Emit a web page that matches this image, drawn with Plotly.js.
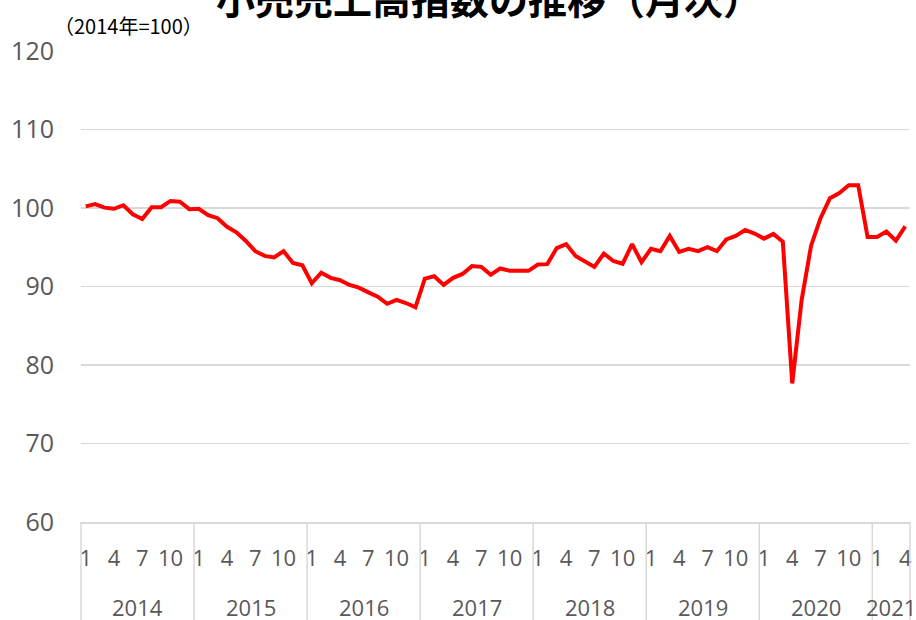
<!DOCTYPE html>
<html>
<head>
<meta charset="utf-8">
<script src="https://cdn.plot.ly/plotly-3.0.1.min.js"></script>
<style>html,body{margin:0;padding:0;background:#fff;}#chart{width:916px;height:620px;}</style>
</head>
<body>
<div id="chart"></div>
<script>
const titleText = '小売売上高指数の推移（月次）';
const unitText = '（2014年=100）';
const years = ['2014','2015','2016','2017','2018','2019','2020','2021'];
const monthCounts = [12,12,12,12,12,12,12,4];
const shownMonths = [1,4,7,10];
const yTicks = [60,70,80,90,100,110,120];
const values = [
  100.2,100.5,100.05,99.9,100.35,99.2,98.6,100.1,100.1,100.9,100.8,99.85,
  99.9,99.1,98.7,97.6,96.9,95.8,94.5,93.9,93.7,94.5,93.0,92.7,
  90.4,91.75,91.1,90.8,90.2,89.85,89.25,88.7,87.8,88.3,87.9,87.35,
  91.0,91.3,90.2,91.1,91.6,92.6,92.5,91.5,92.3,92.0,92.0,92.0,
  92.8,92.85,94.9,95.4,93.9,93.15,92.5,94.2,93.25,92.9,95.4,93.1,
  94.8,94.5,96.45,94.4,94.8,94.5,95.0,94.5,96.0,96.45,97.2,96.75,
  96.1,96.7,95.7,77.65,88.3,95.2,98.7,101.25,101.9,102.9,102.9,96.3,
  96.3,97.0,95.85,97.65
];

// categories
const cats = [];
const monthOf = [];
const yearStartIdx = [];
years.forEach((y, k) => {
  yearStartIdx.push(cats.length);
  for (let m = 1; m <= monthCounts[k]; m++) { cats.push(y + '-' + m); monthOf.push(m); }
});
const tickvals = cats.filter((c, i) => shownMonths.includes(monthOf[i]));
const ticktext = tickvals.map(c => c.split('-')[1]);

const gray = '#d9d9d9';
const labelColor = '#595959';
const font = 'Open Sans, Noto Sans, sans-serif';

const shapes = [];
yearStartIdx.slice(1).forEach(i => {
  shapes.push({type:'line', xref:'x', yref:'paper', x0:i-0.5, x1:i-0.5, y0:0, y1:-0.35,
    line:{color:gray, width:1.5}});
});
[0,1].forEach(p => shapes.push({type:'line', xref:'paper', yref:'paper', x0:p, x1:p, y0:0, y1:-0.35,
  line:{color:gray, width:1.5}}));

const annotations = years.map((y, k) => ({
  xref:'x', yref:'paper', x: yearStartIdx[k] + (monthCounts[k]-1)/2, y:-0.181,
  text:y, showarrow:false, xanchor:'center', yanchor:'middle',
  font:{family:font, size:22, color:labelColor}
}));
annotations.push({xref:'paper', yref:'paper', x:0.0567, y:1.0546, text:unitText, showarrow:false,
  xanchor:'center', yanchor:'middle', font:{family:'Noto Sans CJK JP', size:20, color:'#000'}});

Plotly.newPlot('chart', [{
  x: cats, y: values, type:'scatter', mode:'lines',
  line:{color:'#ff0000', width:4}, hoverinfo:'skip'
}], {
  width:916, height:620,
  margin:{l:81, r:6, t:51, b:98},
  paper_bgcolor:'#fff', plot_bgcolor:'#fff',
  showlegend:false,
  title:{text:titleText, x:0.5338, xref:'container', xanchor:'center', y:1, yref:'container', yanchor:'middle',
    font:{family:'Noto Sans CJK JP', size:39, weight:700, color:'#000'}},
  xaxis:{type:'category', categoryorder:'array', categoryarray:cats, range:[-0.5, cats.length-0.5],
    tickmode:'array', tickvals:tickvals, ticktext:ticktext, ticks:'', showgrid:false,
    showline:true, linecolor:gray, linewidth:1.5, zeroline:false, ticklabelstandoff:16,
    tickfont:{family:font, size:22, color:labelColor}},
  yaxis:{range:[60,120], tickmode:'array', tickvals:yTicks, showgrid:true, gridcolor:gray, gridwidth:1.5,
    zeroline:false, showline:false, ticks:'', ticklabelstandoff:26,
    tickfont:{family:font, size:25, color:labelColor}},
  shapes:shapes, annotations:annotations
}, {staticPlot:true});
</script>
</body>
</html>
